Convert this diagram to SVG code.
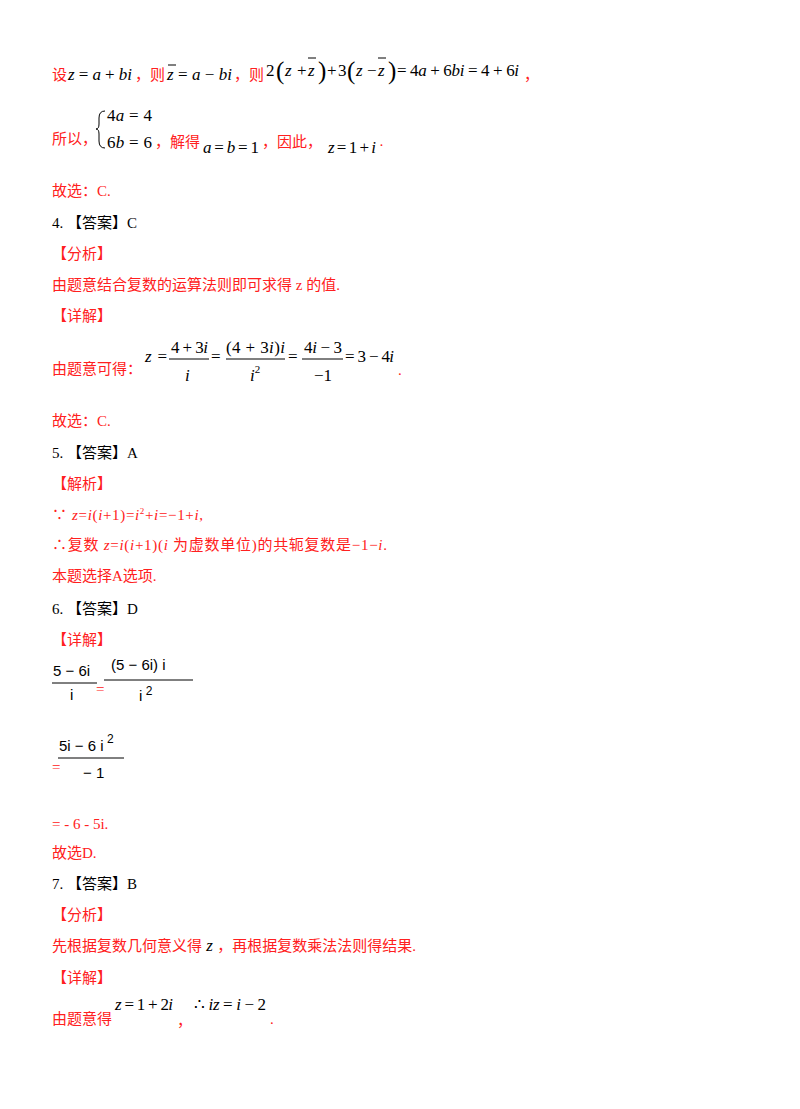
<svg xmlns="http://www.w3.org/2000/svg" width="800" height="1109" viewBox="0 0 800 1109">
<style>
text{font-family:"Liberation Serif","Noto Sans CJK SC",serif;font-size:15px}
.r{fill:#ff2020}
.k{fill:#000}
.m{fill:#000;font-family:"Liberation Serif",serif;font-size:17px}
.i{font-style:italic}
.p{fill:#000;font-family:"Liberation Serif",serif;font-size:25px}
.s{fill:#000;font-family:"Liberation Sans",sans-serif;font-size:15px}
line{stroke:#000;stroke-width:1}
</style>
<rect width="800" height="1109" fill="#fff"/>
<text x="52" y="80" class="r">设</text>
<text x="68" y="80" class="m" textLength="64" lengthAdjust="spacing"><tspan class="i">z</tspan> = <tspan class="i">a</tspan> + <tspan class="i">bi</tspan></text>
<text x="135" y="80" class="r">，则</text>
<text x="167" y="80" class="m" textLength="65" lengthAdjust="spacing"><tspan class="i">z</tspan> = <tspan class="i">a</tspan> − <tspan class="i">bi</tspan></text>
<line x1="168" y1="65" x2="176" y2="65"/>
<text x="234" y="80" class="r">，则</text>
<g class="m" font-size="19">
<text x="266" y="76" class="m" font-size="19">2</text>
<text x="276" y="79" class="p">(</text>
<text x="285" y="76" class="m i" font-size="19">z</text>
<text x="297" y="76" class="m" font-size="19">+</text>
<text x="308" y="76" class="m i" font-size="19">z</text>
<text x="318" y="79" class="p">)</text>
<text x="327" y="76" class="m" font-size="19">+</text>
<text x="338" y="76" class="m" font-size="19">3</text>
<text x="347" y="79" class="p">(</text>
<text x="356" y="76" class="m i" font-size="19">z</text>
<text x="367" y="76" class="m" font-size="19">−</text>
<text x="378" y="76" class="m i" font-size="19">z</text>
<text x="388" y="79" class="p">)</text>
<text x="397" y="76" class="m" font-size="19" textLength="122" lengthAdjust="spacing">= 4<tspan class="i">a</tspan> + 6<tspan class="i">bi</tspan> = 4 + 6<tspan class="i">i</tspan></text>
</g>
<line x1="308" y1="58" x2="316" y2="58"/>
<line x1="378" y1="58" x2="386" y2="58"/>
<text x="524" y="80" class="r">，</text>
<text x="52" y="144" class="r">所以，</text>
<path d="M105 111 Q99 111 99 118 L99 124 Q99 129 96 129 Q99 129 99 134 L99 141 Q99 148 105 148" fill="none" stroke="#000" stroke-width="1"/>
<text x="107" y="121" class="m" textLength="45" lengthAdjust="spacing">4<tspan class="i">a</tspan> = 4</text>
<text x="107" y="148" class="m" textLength="45" lengthAdjust="spacing">6<tspan class="i">b</tspan> = 6</text>
<text x="155" y="147" class="r">，解得</text>
<text x="203" y="153" class="m" textLength="56" lengthAdjust="spacing"><tspan class="i">a</tspan> = <tspan class="i">b</tspan> = 1</text>
<text x="262" y="147" class="r">，因此，</text>
<text x="328" y="153" class="m" textLength="48" lengthAdjust="spacing"><tspan class="i">z</tspan> = 1 + <tspan class="i">i</tspan></text>
<text x="379" y="150" class="r">·</text>
<text x="52" y="196" class="r">故选：C.</text>
<text x="52" y="228" class="k">4. 【答案】C</text>
<text x="52" y="259" class="r">【分析】</text>
<text x="52" y="290" class="r">由题意结合复数的运算法则即可求得 z 的值.</text>
<text x="52" y="321" class="r">【详解】</text>
<text x="52" y="374" class="r">由题意可得：</text>
<text x="145" y="362" class="m" textLength="22" lengthAdjust="spacing"><tspan class="i">z</tspan> =</text>
<text x="171" y="353" class="m" textLength="37" lengthAdjust="spacing">4 + 3<tspan class="i">i</tspan></text>
<line x1="169" y1="359" x2="209" y2="359"/>
<text x="185" y="381" class="m i">i</text>
<text x="211" y="362" class="m">=</text>
<text x="226" y="353" class="m" textLength="59" lengthAdjust="spacing">(4 + 3<tspan class="i">i</tspan>)<tspan class="i">i</tspan></text>
<line x1="226" y1="359" x2="285" y2="359"/>
<text x="250" y="381" class="m"><tspan class="i">i</tspan><tspan font-size="11" dy="-8">2</tspan></text>
<text x="288" y="362" class="m">=</text>
<text x="304" y="353" class="m" textLength="38" lengthAdjust="spacing">4<tspan class="i">i</tspan> − 3</text>
<line x1="302" y1="359" x2="343" y2="359"/>
<text x="314" y="381" class="m">−1</text>
<text x="345" y="362" class="m" textLength="49" lengthAdjust="spacing">= 3 − 4<tspan class="i">i</tspan></text>
<text x="398" y="375" class="r">.</text>
<text x="52" y="426" class="r">故选：C.</text>
<text x="52" y="458" class="k">5. 【答案】A</text>
<text x="52" y="489" class="r">【解析】</text>
<text x="52" y="520" class="r" textLength="151" lengthAdjust="spacing">∵ <tspan class="i">z</tspan>=<tspan class="i">i</tspan>(<tspan class="i">i</tspan>+1)=<tspan class="i">i</tspan><tspan font-size="9" dy="-6">2</tspan><tspan dy="6">+</tspan><tspan class="i">i</tspan>=−1+<tspan class="i">i</tspan>,</text>
<text x="52" y="550" class="r" textLength="335" lengthAdjust="spacing">∴复数 <tspan class="i">z</tspan>=<tspan class="i">i</tspan>(<tspan class="i">i</tspan>+1)(<tspan class="i">i</tspan> 为虚数单位)的共轭复数是−1−<tspan class="i">i</tspan>.</text>
<text x="52" y="581" class="r">本题选择A选项.</text>
<text x="52" y="614" class="k">6. 【答案】D</text>
<text x="52" y="645" class="r">【详解】</text>
<text x="53" y="676" class="s">5 − 6i</text>
<line x1="52" y1="683" x2="97" y2="683"/>
<text x="70" y="700" class="s">i</text>
<text x="96" y="694" class="r" font-size="11">=</text>
<text x="111" y="670" class="s">(5 − 6i) i</text>
<line x1="104" y1="680" x2="193" y2="680"/>
<text x="139" y="701" class="s">i<tspan font-size="12" dy="-6"> 2</tspan></text>
<text x="59" y="751" class="s">5i − 6 i<tspan font-size="12" dy="-8"> 2</tspan></text>
<line x1="58" y1="758" x2="124" y2="758"/>
<text x="83" y="778" class="s">− 1</text>
<text x="52" y="772" class="r" font-size="11">=</text>
<text x="52" y="829" class="r" font-family="Liberation Sans">= - 6 - 5i.</text>
<text x="52" y="858" class="r">故选D.</text>
<text x="52" y="889" class="k">7. 【答案】B</text>
<text x="52" y="920" class="r">【分析】</text>
<text x="52" y="951" class="r">先根据复数几何意义得<tspan class="k i" font-size="17"> z </tspan>，再根据复数乘法法则得结果.</text>
<text x="52" y="983" class="r">【详解】</text>
<text x="52" y="1024" class="r">由题意得</text>
<text x="115" y="1010" class="m" textLength="58" lengthAdjust="spacing"><tspan class="i">z</tspan> = 1 + 2<tspan class="i">i</tspan></text>
<text x="177" y="1026" class="r">，</text>
<text x="194" y="1010" class="m" textLength="72" lengthAdjust="spacing">∴ <tspan class="i">iz</tspan> = <tspan class="i">i</tspan> − 2</text>
<text x="270" y="1024" class="r">.</text>
</svg>
